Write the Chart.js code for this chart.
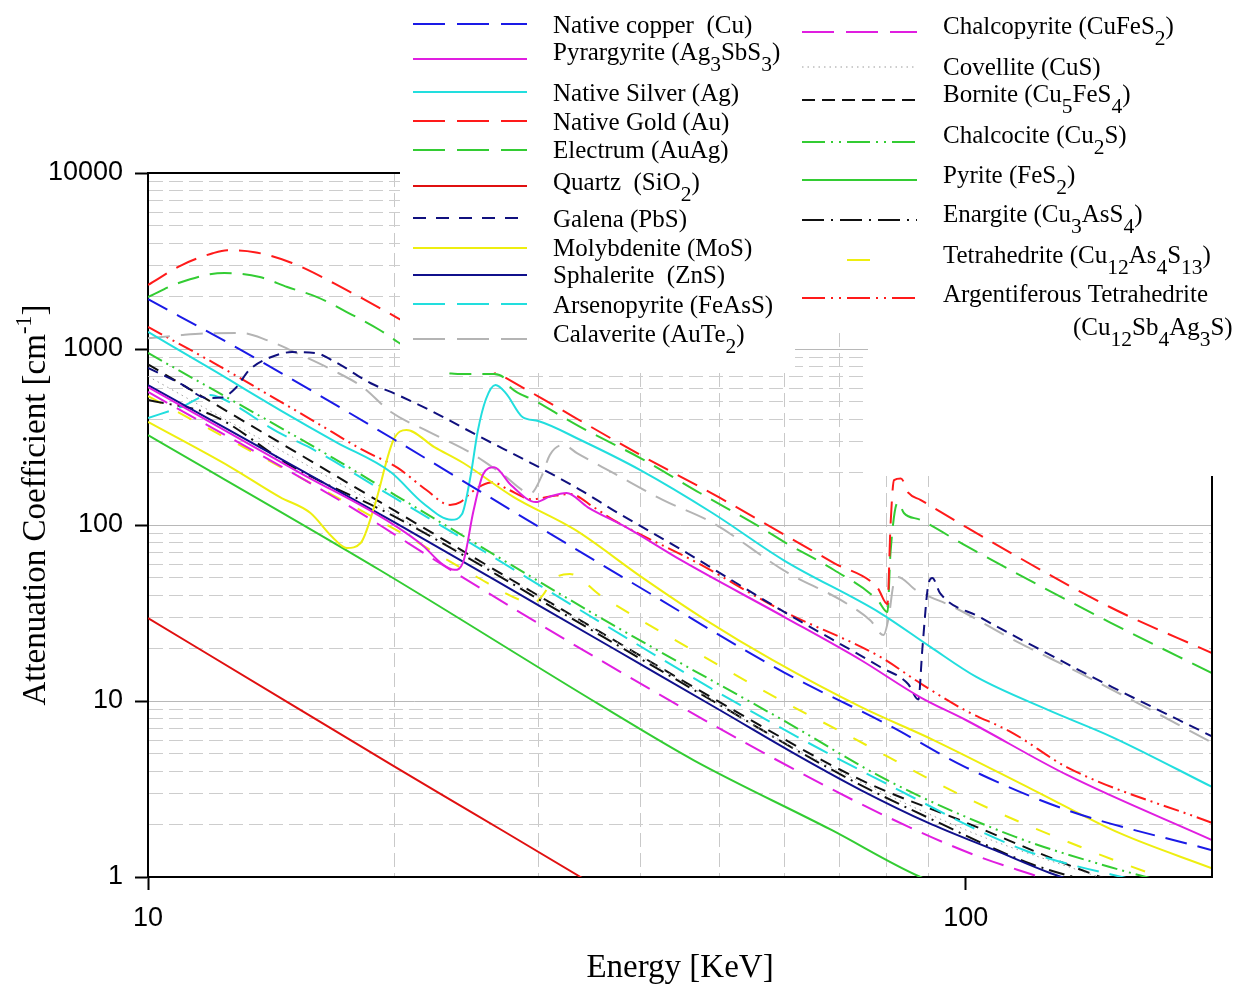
<!DOCTYPE html>
<html>
<head>
<meta charset="utf-8">
<title>Attenuation Coefficient vs Energy</title>
<script src="https://cdn.jsdelivr.net/npm/chart.js@4.4.1/dist/chart.umd.min.js"></script>
<style>
  html, body { margin: 0; padding: 0; background: #fff; }
  #wrap { width: 1243px; height: 985px; position: relative; }
</style>
</head>
<body>
<div id="wrap"><canvas id="chart"></canvas></div>
<script>
// Energy (keV) / attenuation (cm^-1) pairs

// Native copper (Cu)
const cuE  = [10, 13, 20, 30, 40, 60, 80, 100, 133, 200];
const cuMu = [1920, 985, 306, 98, 44, 14.5, 7.4, 4.2, 2.4, 1.42];

// Pyrargyrite (Ag3SbS3)
const pyrE  = [10, 15, 21.5, 22.9, 23.7, 24.3, 25, 25.7, 26.5, 27.8, 29.8, 31, 32.5, 34.5, 38.6, 44.8, 60, 74.4, 88, 100, 133, 200];
const pyrMu = [608, 210, 79, 60, 55.6, 62, 120, 195, 213, 168, 135, 145, 152, 126, 96, 63.3, 30, 17.1, 10.5, 7.8, 3.8, 1.62];

// Native Silver (Ag)
const agE  = [10, 12, 14.5, 17, 19.8, 21.7, 23.5, 24.2, 24.8, 25.3, 25.9, 26.6, 27.4, 28.7, 30, 33.8, 40, 49, 59.9, 78.6, 90.5, 103, 126, 151, 200];
const agMu = [1250, 760, 450, 295, 200, 133, 107, 115, 190, 340, 520, 624, 560, 411, 390, 304, 205, 117, 63, 31.6, 20.3, 13.7, 8.9, 6.24, 3.25];

// Native Gold (Au)
const auE  = [10, 11, 12, 12.5, 13.5, 15, 17.5, 20.2, 23, 27, 30, 40, 50, 60, 69, 78, 80.2, 80.9, 81.7, 83.3, 85.1, 88, 100, 150, 200];
const auMu = [2310, 3000, 3500, 3640, 3550, 3080, 2160, 1500, 1074, 712, 538, 250, 143, 88, 60.8, 43.9, 35.5, 100, 180, 184, 152, 139, 97.5, 34.2, 18.7];

// Electrum (AuAg)
const elE  = [10, 10.9, 12.4, 13.7, 14.8, 16.1, 17.5, 19.2, 20.2, 22.5, 23.5, 24.5, 25.5, 26.5, 27.2, 27.8, 29.6, 33.8, 40, 47.3, 56, 60, 69, 78, 80.2, 80.9, 82.6, 84, 88, 100.6, 150, 200];
const elMu = [1973, 2371, 2703, 2564, 2250, 1973, 1622, 1282, 1096, 800, 725, 720, 722, 720, 690, 600, 513, 360, 240, 152, 97.4, 80, 55.5, 37.5, 32, 70, 135, 117, 107, 75, 28, 14.4];

// Quartz (SiO2)
const qzE  = [10, 15, 20, 25, 33.8, 40];
const qzMu = [29.6, 9.5, 4.25, 2.3, 1.0, 0.62];

// Galena (PbS)
const galE  = [10, 11, 11.8, 12.3, 12.8, 13.3, 14.1, 15, 16, 16.9, 18.7, 20.2, 22.1, 25.5, 29.4, 33.8, 37, 45, 59.4, 78.6, 85, 87.5, 88.5, 90, 91, 93, 104, 125.6, 151, 200];
const galMu = [780, 630, 527, 530, 600, 760, 895, 960, 950, 850, 641, 548, 450, 316, 225, 158, 122, 72, 32.9, 15.6, 12.5, 10.2, 20, 46, 50, 41, 30, 18.7, 12, 6.3];

// Molybdenite (MoS)
const moE  = [10, 12.6, 14.5, 15.8, 16.8, 17.5, 18.2, 18.9, 19.96, 20.7, 22.4, 24.3, 28, 33.3, 40.1, 48.1, 58, 74.4, 91.3, 121, 154, 200];
const moMu = [385, 214, 144, 117, 85.5, 74, 79, 126, 304, 347, 277, 225, 144, 93.7, 50.7, 28.8, 17.1, 9.25, 6.0, 3.12, 1.78, 1.12];

// Sphalerite (ZnS)
const znE  = [10, 20, 30, 40, 50, 62.8, 74.4, 90, 108.5, 127, 150];
const znMu = [624, 104, 35.1, 16.2, 8.89, 4.8, 3.12, 2.03, 1.42, 1.05, 0.82];

// Arsenopyrite (FeAsS)
const aspE  = [10, 11, 11.9, 12.3, 14.4, 15.8, 20, 25, 35.7, 55.1, 79.3, 118, 170];
const aspMu = [405, 470, 548, 525, 338, 274, 143, 77, 28.1, 8.55, 3.46, 1.42, 0.9];

// Calaverite (AuTe2)
const calE  = [10, 11, 12, 13, 14, 15.2, 16.8, 18.3, 19.8, 22, 24.8, 27, 29.4, 30.3, 31, 32.2, 33.5, 37.1, 42.6, 49, 60.6, 70.3, 76.4, 79.3, 80.5, 81.5, 82.6, 86.9, 96.6, 114.5, 137.9, 166, 200];
const calMu = [1150, 1200, 1230, 1233, 1120, 948, 760, 608, 440, 340, 257, 198, 152, 190, 250, 285, 255, 197, 139, 103, 53.4, 37.5, 28.8, 23.7, 30, 45, 50.7, 42.7, 34.2, 22.2, 14.4, 9.2, 5.8];

// Chalcopyrite (CuFeS2)
const cpyE  = [10, 17.2, 24.1, 35.7, 56.6, 79.3, 102.6, 120, 150];
const cpyMu = [570, 137, 51.3, 17.1, 5.07, 2.25, 1.33, 1.04, 0.75];

// Covellite (CuS)
const covE  = [10, 20, 40, 60, 100, 150];
const covMu = [700, 115, 18, 5.8, 1.85, 0.95];

// Bornite (Cu5FeS4)
const bnE  = [10, 20, 35.7, 51.2, 74.4, 100, 142, 170];
const bnMu = [818, 121, 24.7, 9.25, 3.56, 2.04, 1.05, 0.8];

// Chalcocite (Cu2S)
const ccE  = [10, 16.85, 20, 36.7, 60, 81, 115, 150, 200];
const ccMu = [950, 240, 149, 27.7, 7.7, 3.46, 1.69, 1.14, 0.8];

// Pyrite (FeS2)
const pyE  = [10, 19.2, 35.7, 46.5, 68.5, 88, 110];
const pyMu = [324, 55.5, 9.5, 4.6, 1.85, 1.0, 0.7];

// Enargite (Cu3AsS4)
const enE  = [10, 12, 15, 20, 30, 40, 50, 62.8, 74.4, 90, 120, 150];
const enMu = [513, 420, 215, 112, 38, 17.4, 9.5, 5.1, 3.33, 2.17, 1.19, 0.88];

// Tetrahedrite (Cu12As4S13)
const tetE  = [10, 20, 25, 28.5, 29.6, 30.4, 31.3, 32.8, 35.7, 45.6, 59.4, 70.8, 101.4, 143, 173, 200];
const tetMu = [540, 95, 52, 37.5, 36, 40, 49, 52.7, 40, 20.3, 10.1, 6.6, 2.74, 1.39, 1.0, 0.8];

// Argentiferous Tetrahedrite (Cu12Sb4Ag3S)
const atetE  = [10, 12, 14.2, 16, 18.3, 20.2, 21.9, 23.4, 24.1, 24.8, 25.6, 26.4, 27.5, 29.5, 31, 32.8, 35.1, 37.1, 47, 59.4, 78.6, 88, 99.6, 114, 133, 200];
const atetMu = [1334, 840, 533, 386, 267, 211, 158, 130, 135, 152, 168, 175, 160, 140, 145, 150, 126, 106.6, 60.8, 32.9, 17.8, 12.6, 8.9, 6.6, 4.2, 2.03];

// axis ticks
const xTickValues = [10, 20, 30, 40, 50, 60, 70, 80, 90, 100];
const xTickLabels = { 10: '10', 100: '100' };
const yTickValues = [];
for (let d = 1; d <= 1000; d *= 10) {
    for (let m = 1; m <= 9; m++) yTickValues.push(m * d);
}
yTickValues.push(10000);

// key, legend label (_n = subscript), energies, values
const seriesList = [
    ['cu',   'Native copper  (Cu)',            cuE,   cuMu],
    ['pyr',  'Pyrargyrite (Ag_3SbS_3)',        pyrE,  pyrMu],
    ['ag',   'Native Silver (Ag)',             agE,   agMu],
    ['au',   'Native Gold (Au)',               auE,   auMu],
    ['el',   'Electrum (AuAg)',                elE,   elMu],
    ['qz',   'Quartz  (SiO_2)',                qzE,   qzMu],
    ['gal',  'Galena (PbS)',                   galE,  galMu],
    ['mo',   'Molybdenite (MoS)',              moE,   moMu],
    ['zn',   'Sphalerite  (ZnS)',              znE,   znMu],
    ['asp',  'Arsenopyrite (FeAsS)',           aspE,  aspMu],
    ['cal',  'Calaverite (AuTe_2)',            calE,  calMu],
    ['cpy',  'Chalcopyrite (CuFeS_2)',         cpyE,  cpyMu],
    ['cov',  'Covellite (CuS)',                covE,  covMu],
    ['bn',   'Bornite (Cu_5FeS_4)',            bnE,   bnMu],
    ['cc',   'Chalcocite (Cu_2S)',             ccE,   ccMu],
    ['py',   'Pyrite (FeS_2)',                 pyE,   pyMu],
    ['en',   'Enargite (Cu_3AsS_4)',           enE,   enMu],
    ['tet',  'Tetrahedrite (Cu_12As_4S_13)',   tetE,  tetMu],
    ['atet', 'Argentiferous Tetrahedrite',     atetE, atetMu]
];

// line styles
const styles = {
    cu:   { color: '#1a1ae6', dash: [22, 11], legendDash: [32, 12] },
    pyr:  { color: '#e01ee0', dash: [] },
    ag:   { color: '#22dede', dash: [] },
    au:   { color: '#ff1a1a', dash: [22, 11], legendDash: [32, 12] },
    el:   { color: '#33cc33', dash: [22, 11], legendDash: [32, 12] },
    qz:   { color: '#e01010', dash: [] },
    gal:  { color: '#10107e', dash: [11, 7], legendDash: [13, 10] },
    mo:   { color: '#eeee10', dash: [] },
    zn:   { color: '#10108c', dash: [] },
    asp:  { color: '#22dede', dash: [22, 11], legendDash: [32, 12] },
    cal:  { color: '#b4b4b4', dash: [22, 11], legendDash: [32, 12] },
    cpy:  { color: '#e01ee0', dash: [22, 11], legendDash: [32, 12] },
    cov:  { color: '#9a9a9a', dash: [1.5, 4], width: 1 },
    bn:   { color: '#111111', dash: [12, 8], legendDash: [13, 7] },
    cc:   { color: '#33cc33', dash: [16, 5, 2, 5, 2, 5], legendDash: [23, 6, 2, 6, 2, 6] },
    py:   { color: '#33cc33', dash: [] },
    en:   { color: '#111111', dash: [16, 6, 2, 6], legendDash: [22, 7, 2, 7] },
    tet:  { color: '#eeee10', dash: [15, 19], legendDash: [] },
    atet: { color: '#ff1a1a', dash: [16, 5, 2, 5, 2, 5], legendDash: [23, 6, 2, 6, 2, 6] }
};

const isDecade = v => Math.abs(Math.log10(v) - Math.round(Math.log10(v))) < 1e-9;
const serif = '"Liberation Serif", "Times New Roman", serif';

// text with _n subscripts and ^n superscripts
function richText(ctx, text, x, y, size, draw) {
    const parts = text.split(/(_\d+|\^[-\d]+)/).filter(Boolean);
    let cx = x;
    parts.forEach(p => {
        let s = p, dy = 0, fs = size;
        if (p[0] === '_') { s = p.slice(1); dy = size * 0.44; fs = size * 0.86; }
        else if (p[0] === '^') { s = p.slice(1); dy = -size * 0.42; fs = size * 0.68; }
        ctx.font = fs + 'px ' + serif;
        if (draw) ctx.fillText(s, cx, y + dy);
        cx += ctx.measureText(s).width;
    });
    return cx - x;
}

// legend rows: key, sample x0, x1, line y, text x, text baseline
const legendLayout = [
    ['cu',  413, 527,  24, 553,  33],
    ['pyr', 413, 527,  59, 553,  60],
    ['ag',  413, 527,  92, 553, 101],
    ['au',  413, 527, 121, 553, 130],
    ['el',  413, 527, 150, 553, 158],
    ['qz',  413, 527, 186, 553, 190],
    ['gal', 413, 527, 218, 553, 227],
    ['mo',  413, 527, 248, 553, 256],
    ['zn',  413, 527, 275, 553, 283],
    ['asp', 413, 527, 304, 553, 313],
    ['cal', 413, 527, 339, 553, 342],
    ['cpy', 802, 917,  32, 943,  34],
    ['cov', 802, 917,  67, 943,  75],
    ['bn',  802, 917, 100, 943, 102],
    ['cc',  802, 917, 142, 943, 143],
    ['py',  802, 917, 180, 943, 183],
    ['en',  802, 917, 220, 943, 222],
    ['tet', 847, 870, 260, 943, 263],
    ['atet', 802, 917, 298, 943, 302]
];

const overlay = {
    id: 'overlay',
    afterDatasetsDraw(chart) {
        const { ctx, chartArea: a } = chart;
        ctx.save();
        // top and right frame
        ctx.strokeStyle = '#000';
        ctx.lineWidth = 2;
        ctx.setLineDash([]);
        ctx.beginPath();
        ctx.moveTo(a.left, a.top);
        ctx.lineTo(a.right, a.top);
        ctx.lineTo(a.right, a.bottom);
        ctx.stroke();

        // white legend panels over the plot
        ctx.fillStyle = '#fff';
        ctx.fillRect(400, 0, 843, 333);
        ctx.fillRect(400, 0, 395, 372);
        ctx.fillRect(868, 0, 375, 476);

        const labels = Object.fromEntries(seriesList.map(s => [s[0], s[1]]));
        legendLayout.forEach(([key, x0, x1, ly, tx, ty]) => {
            const st = styles[key];
            ctx.strokeStyle = st.color;
            ctx.lineWidth = st.width || 2;
            ctx.setLineDash(st.legendDash || st.dash);
            ctx.beginPath();
            ctx.moveTo(x0, ly);
            ctx.lineTo(x1, ly);
            ctx.stroke();
            ctx.fillStyle = '#000';
            ctx.textBaseline = 'alphabetic';
            ctx.textAlign = 'left';
            richText(ctx, labels[key], tx, ty, 25, true);
        });
        richText(ctx, '(Cu_12Sb_4Ag_3S)', 1073, 335, 25, true);

        // y axis title
        const title = 'Attenuation Coefficient [cm^-1]';
        const w = richText(ctx, title, 0, 0, 33, false);
        ctx.translate(45, 505);
        ctx.rotate(-Math.PI / 2);
        ctx.fillStyle = '#000';
        richText(ctx, title, -w / 2, 0, 33, true);
        ctx.restore();
    }
};

const datasets = seriesList.map(([key, label, es, mus]) => ({
    label: label,
    data: es.map((e, i) => ({ x: e, y: mus[i] })),
    borderColor: styles[key].color,
    borderDash: styles[key].dash,
    borderWidth: styles[key].width || 2,
    pointRadius: 0,
    fill: false,
    cubicInterpolationMode: 'monotone'
}));

new Chart(document.getElementById('chart'), {
    type: 'line',
    data: { datasets: datasets },
    options: {
        responsive: true,
        maintainAspectRatio: false,
        animation: false,
        layout: { padding: { top: 173, right: 31, left: 0, bottom: 0 } },
        plugins: {
            legend: { display: false },
            tooltip: { enabled: false }
        },
        scales: {
            x: {
                type: 'logarithmic',
                min: 10,
                max: 200,
                afterBuildTicks: s => { s.ticks = xTickValues.map(v => ({ value: v })); },
                afterFit: s => { s.height = 108; },
                ticks: {
                    autoSkip: false,
                    maxRotation: 0,
                    padding: 12,
                    color: '#000',
                    font: { family: '"Liberation Sans", Arial, sans-serif', size: 27 },
                    callback: v => xTickLabels[v] || ''
                },
                grid: {
                    color: c => (c.tick && xTickLabels[c.tick.value]) ? 'rgba(0,0,0,0)' : '#c9c9c9',
                    lineWidth: 1,
                    tickColor: c => (c.tick && xTickLabels[c.tick.value]) ? '#000' : 'rgba(0,0,0,0)',
                    tickLength: 13,
                    tickWidth: 2
                },
                border: { display: true, color: '#000', width: 2, dash: [14, 6] },
                title: {
                    display: true,
                    text: 'Energy [KeV]',
                    color: '#000',
                    font: { family: serif, size: 33, lineHeight: 1.0 },
                    padding: { top: 0, bottom: 0 }
                }
            },
            y: {
                type: 'logarithmic',
                min: 1,
                max: 10000,
                afterBuildTicks: s => { s.ticks = yTickValues.map(v => ({ value: v })); },
                afterFit: s => { s.width = 148; },
                ticks: {
                    autoSkip: false,
                    padding: 12,
                    color: '#000',
                    font: { family: '"Liberation Sans", Arial, sans-serif', size: 27 },
                    callback: v => isDecade(v) ? String(v) : ''
                },
                grid: {
                    color: c => (c.tick && isDecade(c.tick.value)) ? '#b8b8b8' : '#cdcdcd',
                    lineWidth: 1,
                    tickColor: c => (c.tick && isDecade(c.tick.value)) ? '#000' : 'rgba(0,0,0,0)',
                    tickLength: 13,
                    tickWidth: 2
                },
                border: {
                    display: true,
                    color: '#000',
                    width: 2,
                    dash: c => (c.tick && !isDecade(c.tick.value)) ? [14, 6] : []
                }
            }
        }
    },
    plugins: [overlay]
});
</script>
</body>
</html>
